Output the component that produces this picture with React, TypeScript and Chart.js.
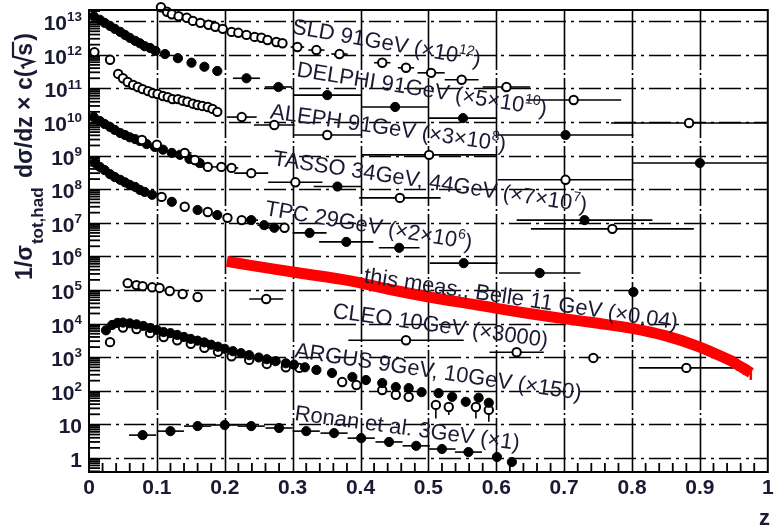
import React, { useEffect, useRef } from "react";
import { Chart, registerables } from "chart.js";

Chart.register(...registerables);

// ---------------- data (z, scaled 1/σ dσ/dz × c) ----------------
const sldZ = [0.008, 0.031, 0.106, 0.115, 0.122, 0.132, 0.144, 0.153, 0.164, 0.176, 0.186, 0.197, 0.210, 0.220, 0.232, 0.244, 0.254, 0.263, 0.276, 0.285, 0.307, 0.335, 0.369, 0.432, 0.467, 0.504, 0.549, 0.615, 0.714, 0.884];
const sldV = [1.2e12, 7.1e11, 2.6e13, 1.9e13, 1.6e13, 1.4e13, 1.26e13, 1.02e13, 8.9e12, 7.8e12, 6.8e12, 5.9e12, 4.8e12, 4.5e12, 3.9e12, 3.4e12, 3.2e12, 2.75e12, 2.4e12, 2.2e12, 1.7e12, 1.38e12, 1.05e12, 5.8e11, 4.1e11, 2.9e11, 1.8e11, 1.1e11, 4.5e10, 9.3e9];
const sldZerr = [0, 0, 0, 0, 0, 0, 0, 0, 0, 0, 0, 0, 0, 0, 0, 0, 0, 0, 0, 0, 0.01, 0.012, 0.012, 0.012, 0.012, 0.02, 0.025, 0.035, 0.07, 0.115];

const delphiZ = [0.007, 0.016, 0.023, 0.031, 0.038, 0.046, 0.053, 0.060, 0.068, 0.075, 0.082, 0.090, 0.098, 0.112, 0.131, 0.151, 0.170, 0.189, 0.232, 0.279, 0.351, 0.451, 0.551, 0.702, 0.900];
const delphiV = [1.4e13, 1.1e13, 8.9e12, 7.2e12, 5.9e12, 4.8e12, 3.9e12, 3.2e12, 2.6e12, 2.2e12, 1.8e12, 1.6e12, 1.3e12, 1.05e12, 7.9e11, 5.8e11, 4.4e11, 3.3e11, 2.0e11, 1.1e11, 6.3e10, 2.8e10, 1.3e10, 4.1e9, 6.0e8];
const delphiZerr = [0, 0, 0, 0, 0, 0, 0, 0, 0, 0, 0, 0, 0, 0, 0, 0, 0, 0, 0.02, 0.02, 0.05, 0.05, 0.05, 0.1, 0.1];

const alephZ = [0.043, 0.050, 0.057, 0.065, 0.072, 0.079, 0.087, 0.094, 0.101, 0.109, 0.116, 0.123, 0.131, 0.138, 0.145, 0.153, 0.160, 0.167, 0.175, 0.182, 0.189, 0.225, 0.273, 0.351, 0.501, 0.702];
const alephV = [2.7e11, 2.0e11, 1.55e11, 1.26e11, 1.1e11, 9.5e10, 8.3e10, 7.2e10, 6.8e10, 5.9e10, 5.5e10, 4.8e10, 4.8e10, 4.3e10, 4.0e10, 3.5e10, 3.2e10, 3.0e10, 2.8e10, 2.45e10, 2.0e10, 1.4e10, 8.1e9, 4.1e9, 1.05e9, 1.9e8];
const alephZerr = [0, 0, 0, 0, 0, 0, 0, 0, 0, 0, 0, 0, 0, 0, 0, 0, 0, 0, 0, 0, 0, 0.022, 0.03, 0.05, 0.1, 0.1];

const tasso34Z = [0.007, 0.016, 0.023, 0.031, 0.038, 0.046, 0.053, 0.060, 0.068, 0.075, 0.085, 0.097, 0.109, 0.122, 0.134, 0.148, 0.163, 0.366, 0.730];
const tasso34V = [1.4e10, 1.07e10, 8.7e9, 7.1e9, 5.8e9, 4.7e9, 4.1e9, 3.5e9, 3.1e9, 2.7e9, 2.2e9, 1.8e9, 1.5e9, 1.2e9, 1.05e9, 7.9e8, 6.0e8, 1.2e8, 1.2e7];
const tasso34Zerr = [0, 0, 0, 0, 0, 0, 0, 0, 0, 0, 0, 0, 0, 0, 0, 0, 0, 0.035, 0.1];

const tasso44Z = [0.078, 0.100, 0.141, 0.156, 0.175, 0.195, 0.210, 0.239, 0.304, 0.458, 0.771];
const tasso44V = [2.9e9, 2.1e9, 1.2e9, 7.4e8, 4.6e8, 4.6e8, 4.3e8, 3.0e8, 1.6e8, 5.5e7, 6.6e6];
const tasso44Zerr = [0, 0, 0.01, 0, 0.01, 0.01, 0.01, 0.025, 0.04, 0.06, 0.12];

const tpcZ = [0.009, 0.016, 0.023, 0.031, 0.038, 0.046, 0.053, 0.060, 0.068, 0.075, 0.082, 0.093, 0.122, 0.160, 0.189, 0.239, 0.258, 0.273, 0.325, 0.379, 0.457, 0.552, 0.664, 0.802];
const tpcV = [6.0e8, 4.6e8, 3.7e8, 2.8e8, 2.3e8, 1.9e8, 1.6e8, 1.35e8, 1.17e8, 9.5e7, 8.3e7, 6.8e7, 4.2e7, 2.4e7, 1.7e7, 1.2e7, 8.5e6, 7.1e6, 5.0e6, 2.7e6, 1.8e6, 6.3e5, 3.2e5, 8.7e4];
const tpcZerr = [0, 0, 0, 0, 0, 0, 0, 0, 0, 0, 0, 0, 0, 0, 0, 0.01, 0.01, 0.015, 0.025, 0.04, 0.03, 0.05, 0.06, 0];

const tpcOpenZ = [0.107, 0.141, 0.175, 0.204, 0.225, 0.288];
const tpcOpenV = [5.9e7, 3.0e7, 2.1e7, 1.4e7, 1.2e7, 7.1e6];

const belleZ = [0.203, 0.236, 0.310, 0.383, 0.440, 0.501, 0.575, 0.603, 0.648, 0.702, 0.750, 0.800, 0.850, 0.897, 0.946, 0.955, 0.965, 0.975];
const belleV = [7.1e5, 5.5e5, 3.2e5, 1.9e5, 1.07e5, 6.2e4, 3.5e4, 2.8e4, 2.0e4, 1.38e4, 1.02e4, 7.2e3, 4.3e3, 2.1e3, 780, 600, 460, 340];
const belleLo = [0, 0, 0, 0, 0, 0, 0, 0, 0, 0, 0, 0, 0, 0, 0, 400, 300, 210];
const belleHi = [0, 0, 0, 0, 0, 0, 0, 0, 0, 0, 0, 0, 0, 0, 0, 800, 640, 480];

const cleoZ = [0.057, 0.070, 0.079, 0.093, 0.104, 0.119, 0.138, 0.160, 0.261, 0.467, 0.630, 0.743, 0.880];
const cleoV = [1.6e5, 1.4e5, 1.3e5, 1.2e5, 1.15e5, 9.3e4, 7.6e4, 6.2e4, 5.4e4, 3.2e3, 1.4e3, 950, 480];
const cleoZerr = [0, 0, 0, 0, 0, 0, 0, 0, 0.025, 0.085, 0.04, 0, 0.07];

const argus9Z = [0.025, 0.034, 0.042, 0.050, 0.060, 0.070, 0.080, 0.090, 0.100, 0.110, 0.120, 0.130, 0.140, 0.150, 0.160, 0.170, 0.180, 0.190, 0.200, 0.212, 0.224, 0.236, 0.250, 0.262, 0.275, 0.290, 0.302, 0.318, 0.335, 0.358, 0.388, 0.408, 0.432, 0.452, 0.471, 0.490, 0.515, 0.535, 0.555, 0.574, 0.589];
const argus9V = [6300, 9100, 1.05e4, 1.07e4, 1.02e4, 9500, 8500, 7400, 6500, 5600, 5200, 4600, 4000, 3500, 3100, 2750, 2350, 2050, 1780, 1510, 1320, 1150, 980, 870, 760, 660, 600, 500, 417, 339, 257, 209, 170, 129, 120, 91, 85, 66, 47, 62, 44];

const argus10Z = [0.031, 0.050, 0.070, 0.090, 0.110, 0.130, 0.150, 0.170, 0.190, 0.210, 0.236, 0.262, 0.290, 0.310, 0.373, 0.394, 0.432, 0.452, 0.471, 0.511, 0.530, 0.570, 0.589];
const argus10V = [2800, 7600, 6900, 5200, 4000, 3200, 2500, 1900, 1450, 1070, 830, 630, 500, 480, 182, 148, 105, 76, 66, 38, 33, 33, 27];
const argus10Lo = [0, 0, 0, 0, 0, 0, 0, 0, 0, 0, 0, 0, 0, 0, 0, 0, 0, 0, 0, 15, 19, 15, 12];

const ronanZ = [0.079, 0.120, 0.160, 0.200, 0.239, 0.280, 0.320, 0.361, 0.401, 0.442, 0.482, 0.520, 0.559, 0.601, 0.623];
const ronanV = [4.8, 6.3, 8.9, 9.6, 8.9, 7.8, 6.3, 5.5, 3.9, 3.0, 2.3, 1.85, 1.5, 1.07, 0.76];
const ronanZerr = [0.02, 0.02, 0.02, 0.02, 0.02, 0.02, 0.02, 0.02, 0.02, 0.02, 0.02, 0.02, 0.02, 0, 0];

// axis ticks
const xTickLabels = ["0", "0.1", "0.2", "0.3", "0.4", "0.5", "0.6", "0.7", "0.8", "0.9", "1"];
const yDecadeExps = [0, 1, 2, 3, 4, 5, 6, 7, 8, 9, 10, 11, 12, 13];

// series captions: [text, "sup"?]
const seriesLabels: { segs: [string, string?][]; z: number; v: number; rot: number }[] = [
  { segs: [["SLD 91GeV (×10"], ["12", "sup"], [")"]], z: 0.298, v: 4.4e12, rot: 10 },
  { segs: [["DELPHI 91GeV (×5×10"], ["10", "sup"], [")"]], z: 0.305, v: 2.3e11, rot: 9 },
  { segs: [["ALEPH 91GeV (×3×10"], ["8", "sup"], [")"]], z: 0.266, v: 1.3e10, rot: 8 },
  { segs: [["TASSO 34GeV, 44GeV (×7×10"], ["7", "sup"], [")"]], z: 0.27, v: 5.2e8, rot: 8.5 },
  { segs: [["TPC 29GeV (×2×10"], ["6", "sup"], [")"]], z: 0.258, v: 1.7e7, rot: 9.5 },
  { segs: [["this meas., Belle 11 GeV (×0.04)"]], z: 0.404, v: 1.7e5, rot: 8.5 },
  { segs: [["CLEO 10GeV (×3000)"]], z: 0.358, v: 1.5e4, rot: 7.8 },
  { segs: [["ARGUS 9GeV, 10GeV (×150)"]], z: 0.302, v: 1000, rot: 8.5 },
  { segs: [["Ronan et al. 3GeV (×1)"]], z: 0.302, v: 13.5, rot: 7.6 },
];

const FONT = '"Liberation Sans", Arial, Helvetica, sans-serif';
const INK = "#1a1a34";

function drawRich(ctx: CanvasRenderingContext2D, segs: [string, string?][], size: number, weight: string) {
  let cx = 0;
  for (const [t, kind] of segs) {
    const s = kind === "sup" ? size * 0.64 : size;
    ctx.font = `${weight} ${s}px ${FONT}`;
    const dy = kind === "sup" ? -size * 0.42 : 0;
    ctx.fillText(t, cx, dy);
    cx += ctx.measureText(t).width;
  }
  return cx;
}

function measureRich(ctx: CanvasRenderingContext2D, segs: [string, string?][], size: number, weight: string) {
  let w = 0;
  for (const [t, kind] of segs) {
    const s = kind === "sup" ? size * 0.64 : size;
    ctx.font = `${weight} ${s}px ${FONT}`;
    w += ctx.measureText(t).width;
  }
  return w;
}

const pts = (zs: number[], vs: number[]) => zs.map((z, i) => ({ x: z, y: vs[i] }));

const openStyle = { pointRadius: 4.2, pointBorderWidth: 2, pointBorderColor: "#000", pointBackgroundColor: "#fff", showLine: false, clip: false as any };
const fillStyle = { pointRadius: 4.6, pointBorderWidth: 1, pointBorderColor: "#000", pointBackgroundColor: "#000", showLine: false, clip: false as any };

const overlay = {
  id: "overlay",
  beforeDraw(chart: any) {
    const { ctx, width, height } = chart;
    ctx.save();
    ctx.fillStyle = "#fff";
    ctx.fillRect(0, 0, width, height);
    ctx.restore();
  },
  beforeDatasetsDraw(chart: any) {
    const { ctx, chartArea: a, scales } = chart;
    const x = scales.x, y = scales.y;
    const line = (x1: number, y1: number, x2: number, y2: number) => {
      ctx.beginPath();
      ctx.moveTo(x1, y1);
      ctx.lineTo(x2, y2);
      ctx.stroke();
    };
    ctx.save();
    ctx.strokeStyle = "#000";
    ctx.lineWidth = 1.6;
    // vertical grid
    ctx.setLineDash([60, 3, 2, 3]);
    for (let i = 1; i < xTickLabels.length - 1; i++) {
      const px = Math.round(x.getPixelForValue(i / 10)) + 0.5;
      line(px, a.top, px, a.bottom);
    }
    // horizontal dash-dot grid
    ctx.setLineDash([22, 5, 3, 5]);
    for (const e of yDecadeExps) {
      const py = Math.round(y.getPixelForValue(Math.pow(10, e))) + 0.5;
      if (py < a.top || py > a.bottom) continue;
      line(a.left, py, a.right, py);
    }
    ctx.setLineDash([]);
    // minor ticks on y
    ctx.lineWidth = 1.8;
    for (let e = -1; e <= 13; e++) {
      for (let m = 2; m <= 9; m++) {
        const v = m * Math.pow(10, e);
        if (v < y.min || v > y.max) continue;
        const py = y.getPixelForValue(v);
        line(a.left, py, a.left + 11, py);
      }
    }
    // minor ticks on x
    for (let k = 1; k < 50; k++) {
      if (k % 5 === 0) continue;
      const px = x.getPixelForValue(k * 0.02);
      line(px, a.bottom, px, a.bottom - 9);
    }
    // error bars
    chart.data.datasets.forEach((ds: any, i: number) => {
      if (!chart.isDatasetVisible(i)) return;
      ctx.strokeStyle = ds.errColor || "#000";
      ctx.lineWidth = ds.errWidth || 1.6;
      ds.data.forEach((p: any, j: number) => {
        const px = x.getPixelForValue(p.x);
        const py = y.getPixelForValue(p.y);
        const ze = ds.zerr ? ds.zerr[j] : 0;
        if (ze > 0) {
          line(x.getPixelForValue(Math.max(0, p.x - ze)), py, x.getPixelForValue(Math.min(1, p.x + ze)), py);
        }
        const lo = ds.ylo ? ds.ylo[j] : 0;
        const hi = ds.yhi ? ds.yhi[j] : 0;
        if (lo > 0) line(px, py, px, y.getPixelForValue(lo));
        if (hi > 0) line(px, py, px, y.getPixelForValue(hi));
      });
    });
    ctx.restore();
  },
  afterDatasetsDraw(chart: any) {
    const { ctx, chartArea: a, scales } = chart;
    const x = scales.x, y = scales.y;
    ctx.save();
    // frame
    ctx.strokeStyle = "#000";
    ctx.lineWidth = 2;
    ctx.strokeRect(a.left, a.top, a.right - a.left, a.bottom - a.top);

    // y tick labels
    ctx.fillStyle = INK;
    ctx.textBaseline = "alphabetic";
    ctx.textAlign = "left";
    for (const e of yDecadeExps) {
      const py = y.getPixelForValue(Math.pow(10, e));
      const segs: [string, string?][] = e === 0 ? [["1"]] : e === 1 ? [["10"]] : [["10"], [String(e), "sup"]];
      const w = measureRich(ctx, segs, 21, "bold");
      ctx.save();
      ctx.translate(82 - w, py + 9);
      drawRich(ctx, segs, 21, "bold");
      ctx.restore();
    }

    // y title
    ctx.save();
    ctx.translate(32, 280);
    ctx.rotate(-Math.PI / 2);
    ctx.fillStyle = INK;
    ctx.strokeStyle = INK;
    let cx = 0;
    const mainF = `bold 23px ${FONT}`;
    const subF = `bold 17px ${FONT}`;
    ctx.font = mainF;
    ctx.fillText("1/σ", cx, 0);
    cx += ctx.measureText("1/σ").width;
    ctx.font = subF;
    ctx.fillText("tot,had", cx + 1, 11);
    cx += ctx.measureText("tot,had").width + 4;
    ctx.font = mainF;
    const t2 = " dσ/dz × c(";
    ctx.fillText(t2, cx, 0);
    cx += ctx.measureText(t2).width;
    const sw = ctx.measureText("s").width;
    ctx.lineWidth = 2.2;
    ctx.beginPath();
    ctx.moveTo(cx + 1, -8);
    ctx.lineTo(cx + 4, -10);
    ctx.lineTo(cx + 8, 1);
    ctx.lineTo(cx + 13, -19);
    ctx.lineTo(cx + 15 + sw, -19);
    ctx.stroke();
    cx += 14;
    ctx.fillText("s", cx, 0);
    cx += sw + 2;
    ctx.fillText(")", cx, 0);
    ctx.restore();

    // x title
    ctx.font = `bold 22px ${FONT}`;
    ctx.textAlign = "right";
    ctx.fillText("z", 770, 525);
    ctx.textAlign = "left";

    // series captions
    for (const l of seriesLabels) {
      ctx.save();
      ctx.translate(x.getPixelForValue(l.z), y.getPixelForValue(l.v));
      ctx.rotate((l.rot * Math.PI) / 180);
      ctx.fillStyle = INK;
      drawRich(ctx, l.segs, 22, "normal");
      ctx.restore();
    }
    ctx.restore();
  },
};

export default function App() {
  const ref = useRef<HTMLCanvasElement>(null);
  useEffect(() => {
    const canvas = ref.current!;
    const datasets: any[] = [
      { label: "SLD", data: pts(sldZ, sldV), zerr: sldZerr, ...openStyle },
      { label: "DELPHI", data: pts(delphiZ, delphiV), zerr: delphiZerr, ...fillStyle },
      { label: "ALEPH", data: pts(alephZ, alephV), zerr: alephZerr, ...openStyle },
      { label: "TASSO 44", data: pts(tasso44Z, tasso44V), zerr: tasso44Zerr, ...openStyle },
      { label: "TASSO 34", data: pts(tasso34Z, tasso34V), zerr: tasso34Zerr, ...fillStyle },
      { label: "TPC open", data: pts(tpcOpenZ, tpcOpenV), ...openStyle },
      { label: "TPC", data: pts(tpcZ, tpcV), zerr: tpcZerr, ...fillStyle },
      { label: "CLEO", data: pts(cleoZ, cleoV), zerr: cleoZerr, ...openStyle },
      { label: "ARGUS 9", data: pts(argus9Z, argus9V), ...fillStyle },
      { label: "ARGUS 10", data: pts(argus10Z, argus10V), ylo: argus10Lo, ...openStyle },
      { label: "Ronan", data: pts(ronanZ, ronanV), zerr: ronanZerr, ...fillStyle },
      {
        label: "Belle",
        data: pts(belleZ, belleV),
        ylo: belleLo,
        yhi: belleHi,
        errColor: "#ff0000",
        errWidth: 2.5,
        showLine: true,
        borderColor: "#ff0000",
        borderWidth: 11,
        pointRadius: 0,
        tension: 0.3,
        fill: false,
      },
    ];
    const chart = new Chart(canvas, {
      type: "scatter",
      data: { datasets },
      options: {
        responsive: false,
        animation: false,
        devicePixelRatio: 1,
        events: [],
        layout: { padding: { top: 10, right: 4, left: 0, bottom: 0 } },
        plugins: { legend: { display: false }, tooltip: { enabled: false } },
        scales: {
          x: {
            type: "linear",
            min: 0,
            max: 1,
            position: "bottom",
            grid: { display: false, drawTicks: false },
            border: { display: false },
            ticks: {
              stepSize: 0.1,
              autoSkip: false,
              maxRotation: 0,
              padding: 4,
              color: INK,
              font: { family: FONT, size: 21, weight: "bold" },
              callback: (v: any) => {
                const i = Math.round(Number(v) * 10);
                return xTickLabels[i] ?? "";
              },
            },
            afterFit: (s: any) => {
              s.height = 57;
              s.paddingLeft = 0;
              s.paddingRight = 0;
            },
          },
          y: {
            type: "logarithmic",
            min: 0.383,
            max: 2.15e13,
            position: "left",
            grid: { display: false, drawTicks: false },
            border: { display: false },
            ticks: { display: false },
            afterFit: (s: any) => {
              s.width = 89;
              s.paddingTop = 0;
              s.paddingBottom = 0;
            },
          },
        },
      } as any,
      plugins: [overlay],
    });
    return () => chart.destroy();
  }, []);
  return (
    <div style={{ position: "absolute", left: 0, top: 0, width: 774, height: 529, background: "#fff" }}>
      <canvas ref={ref} width={774} height={529} style={{ display: "block", width: 774, height: 529 }} />
    </div>
  );
}
